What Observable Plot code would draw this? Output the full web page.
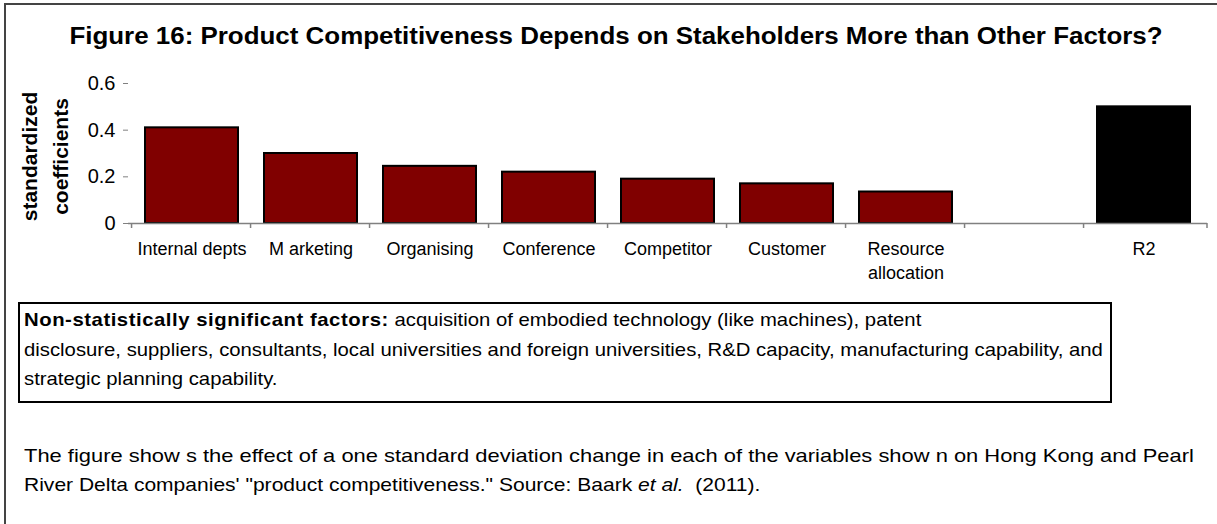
<!DOCTYPE html>
<html>
<head>
<meta charset="utf-8">
<script src="https://cdn.jsdelivr.net/npm/d3@7"></script>
<script src="https://cdn.jsdelivr.net/npm/@observablehq/plot@0.6"></script>
<style>
  html, body { margin: 0; padding: 0; background: #fff; }
  body { width: 1217px; height: 524px; position: relative; overflow: hidden;
         font-family: "Liberation Sans", Arial, sans-serif; color: #000; }
  #frame { position: absolute; left: 4px; top: 3px; width: 1400px; height: 700px;
           border-top: 2px solid #444; border-left: 2px solid #444; box-sizing: border-box; }
  #title { position: absolute; left: 0; width: 1232px; top: 25px; text-align: center;
           font-weight: bold; font-size: 23px; line-height: 23px; white-space: nowrap;
           transform: scaleX(1.127); transform-origin: 616px 0; }
  #chart { position: absolute; left: 0; top: 60px; }
  #note { position: absolute; left: 18px; top: 302px; width: 1094px; height: 101px; box-sizing: border-box;
          border: 2px solid #000; padding: 1px 4px 0 4px; font-size: 18.5px; line-height: 29.5px;
          white-space: nowrap; overflow: visible; }
  #note .inner { display: inline-block; transform: scaleX(1.097); transform-origin: 0 0; }
  #note b { letter-spacing: 0.5px; }
  #caption { position: absolute; left: 24px; top: 441px; font-size: 18.5px; line-height: 29px;
             white-space: nowrap; }
  #caption .l1 { display: block; transform: scaleX(1.184); transform-origin: 0 0; }
  #caption .l2 { display: block; transform: scaleX(1.137); transform-origin: 0 0; }
</style>
</head>
<body>
<div id="frame"></div>
<div id="title">Figure 16: Product Competitiveness Depends on Stakeholders More than Other Factors?</div>
<div id="chart"></div>
<div id="note"><span class="inner"><b>Non-statistically significant factors:</b> acquisition of embodied technology (like machines), patent<br>disclosure, suppliers, consultants, local universities and foreign universities, R&amp;D capacity, manufacturing capability, and<br>strategic planning capability.</span></div>
<div id="caption"><span class="l1">The figure show s the effect of a one standard deviation change in each of the variables show n on Hong Kong and Pearl</span><span class="l2">River Delta companies' "product competitiveness." Source: Baark <i>et al.</i>&nbsp; (2011).</span></div>
<script>
// ---- data ----
const categories = ["Internal depts", "Marketing", "Organising", "Conference", "Competitor", "Customer", "Resource allocation", "", "R2"];
const tickLabels = ["Internal depts", "M arketing", "Organising", "Conference", "Competitor", "Customer", "Resource\nallocation", "", "R2"];
const values = [0.41, 0.30, 0.245, 0.22, 0.19, 0.17, 0.135, null, 0.50];
const kinds = ["factor", "factor", "factor", "factor", "factor", "factor", "factor", "none", "fit"];
const yTicks = [0, 0.2, 0.4, 0.6];
const yLabel = "standardized\ncoefficients";

const rows = categories.map((c, i) => ({cat: c, value: values[i], kind: kinds[i]}))
  .filter(d => d.value != null);
const labelOf = new Map(categories.map((c, i) => [c, tickLabels[i]]));

const W = 1217, ML = 128, MR = 10;

function boundaryTicks(index, scales, vals, dims) {
  const x = scales.x, y = scales.y;
  const step = (dims.width - dims.marginLeft - dims.marginRight) / categories.length;
  const bw = typeof x.bandwidth === "function" ? x.bandwidth() : step * 0.78;
  const y0 = y(0);
  const xs = categories.map(c => x(c) + bw / 2 - step / 2);
  xs.push(dims.width - dims.marginRight);
  const g = d3.create("svg:g").attr("stroke", "#808080").attr("stroke-width", 1.5);
  for (const px of xs) {
    g.append("line").attr("x1", px).attr("x2", px).attr("y1", y0).attr("y2", y0 + 5);
  }
  return g.node();
}

const plot = Plot.plot({
  width: W,
  height: 218,
  marginLeft: ML,
  marginRight: MR,
  marginTop: 23,
  marginBottom: 55,
  style: {fontFamily: "'Liberation Sans', Arial, sans-serif", background: "transparent", overflow: "visible"},
  x: {domain: categories, paddingInner: 0.22, paddingOuter: 0.11, align: 0.5},
  y: {domain: [0, 0.6]},
  marks: [
    Plot.barY(rows, {
      x: "cat", y: "value",
      fill: d => d.kind === "fit" ? "#000000" : "#800000",
      stroke: "#000", strokeWidth: 2
    }),
    Plot.ruleY([0], {stroke: "#808080", strokeWidth: 1.5}),
    boundaryTicks,
    Plot.axisY({
      ticks: yTicks, tickFormat: d => String(d), tickSize: 5, tickPadding: 8,
      fontSize: 20, line: true, stroke: "#808080", fill: "#000", label: null
    }),
    Plot.axisX({
      tickSize: 0, tickPadding: 15, fontSize: 18, lineHeight: 1.3,
      tickFormat: d => labelOf.get(d), fill: "#000", label: null
    }),
    Plot.text([yLabel], {
      text: d => d, frameAnchor: "left", rotate: -90, dx: -86, dy: 3,
      fontSize: 21, fontWeight: "bold", lineHeight: 1.5, lineAnchor: "middle",
      textAnchor: "middle", fill: "#000"
    })
  ]
});
document.getElementById("chart").appendChild(plot);
</script>
</body>
</html>
